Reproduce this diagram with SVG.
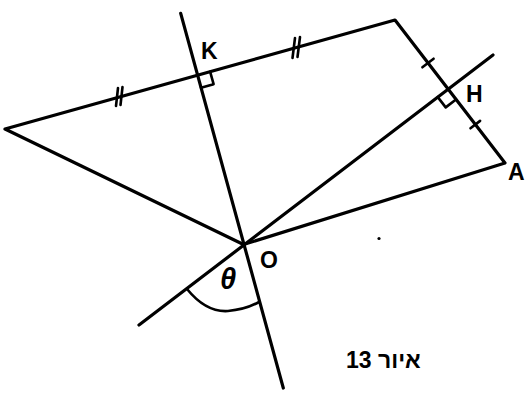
<svg xmlns="http://www.w3.org/2000/svg" width="525" height="394" viewBox="0 0 525 394">
<style>
.ln{fill:none;stroke:#000;stroke-width:3.2;stroke-linecap:round;stroke-linejoin:round}
.tk{fill:none;stroke:#000;stroke-width:2.6;stroke-linecap:round;stroke-linejoin:round}
.lb{font-family:"Liberation Sans","DejaVu Sans",sans-serif;font-weight:bold;font-size:23px;fill:#000}
.th{font-size:29px;font-style:italic}
</style>
<rect width="525" height="394" fill="#fff"/>
<g id="connectors">
<polygon class="ln" points="5,129 395,20 505,163 243.5,244.5"/>
<line class="ln" x1="180.7" y1="13.3" x2="283.3" y2="388"/>
<line class="ln" x1="139" y1="325" x2="493" y2="55"/>
</g>
<g id="marks">
<path class="tk" d="M210.1,71.7 L213.6,84.2 L201,87.7"/>
<path class="tk" d="M437.8,97.1 L445.7,107.4 L456,99.5"/>
<line class="tk" x1="422.4" y1="67.3" x2="433.6" y2="58.7"/>
<line class="tk" x1="470.5" y1="128.3" x2="480.1" y2="120.9"/>
<line class="tk" x1="116" y1="106" x2="118" y2="88"/>
<line class="tk" x1="120.5" y1="105" x2="122.5" y2="87"/>
<line class="tk" x1="292.5" y1="58" x2="295" y2="38"/>
<line class="tk" x1="297.5" y1="57" x2="300" y2="37"/>
<path class="tk" d="M187,289 C200,305 214,312 228,311 C240,310 250,307 259,302"/>
<circle cx="379" cy="238.5" r="1.6" fill="#000"/>
</g>
<g id="node-K"><text class="lb" x="201" y="59">K</text></g>
<g id="node-H"><text class="lb" x="466" y="102">H</text></g>
<g id="node-A"><text class="lb" x="508" y="180">A</text></g>
<g id="node-O"><text class="lb" x="260" y="268">O</text></g>
<g id="node-theta"><text class="lb th" x="220" y="289">θ</text></g>
<g id="caption"><text class="lb" x="346" y="368">איור 13</text></g>
</svg>
